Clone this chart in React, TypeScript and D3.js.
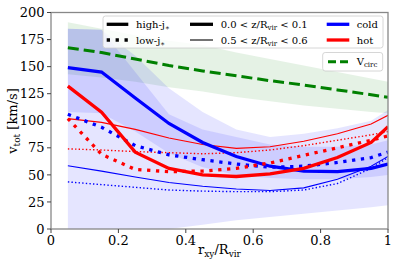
import React from "react";
import * as d3 from "d3";

const xs = [0.05, 0.15, 0.25, 0.35, 0.45, 0.55, 0.65, 0.75, 0.85, 0.95, 1.0];

const coldHighThick = [149, 145, 121, 97.5, 80, 67, 58, 53.5, 53, 56, 60];
const coldLowThick = [106, 94, 77, 68.5, 64, 60, 57, 58, 61.5, 66, 71];
const coldHighThin = [58.5, 53.5, 48, 43, 39.5, 37, 35.5, 38, 46, 58, 67];
const coldLowThin = [43.5, 41, 38.5, 36, 35, 34.5, 34.5, 36, 42, 56, 66];
const hotHighThick = [132, 108, 71, 56, 50, 48.5, 51, 56, 66, 80, 94.5];
const hotLowThick = [102, 69, 55, 53, 53.5, 56, 61, 68, 75, 82, 86];
const hotHighThin = [102, 98.5, 92, 84, 78, 74.5, 76, 81, 88, 97, 105];
const hotLowThin = [74, 73, 71.5, 70.5, 69.5, 70.5, 73, 77, 82, 87, 90];
const vcirc = [167.5, 163, 157, 151, 146, 141.5, 137, 133, 128.5, 124, 121.7];
const vcircHi = [191, 185, 179, 174, 170, 163, 157, 151, 145, 139, 136];
const vcircLo = [143, 140, 136, 131, 127, 122, 118, 114, 111, 108, 107];
const bandAHi = [185, 184, 145, 106, 92, 85, 78, 76, 76, 78, 82];
const bandALo = [108, 107, 90, 70, 57, 50, 47, 46, 46, 48, 50];
const bandBHi = [185, 184, 160, 130, 108, 92, 85, 88, 93, 100, 110];
const bandBLo = [0, 0, 0, 0, 4, 8, 11, 14, 17, 20, 22];

const xTicks = [0, 0.2, 0.4, 0.6, 0.8, 1.0];
const xTickLabels = ["0", "0.2", "0.4", "0.6", "0.8", "1"];
const yTicks = [0, 25, 50, 75, 100, 125, 150, 175, 200];

const FONT = "DejaVu Serif";

export default function App() {
  const x = d3.scaleLinear().domain([0, 1]).range([51, 388]);
  const y = d3.scaleLinear().domain([0, 200]).range([229, 12.5]);

  const line = (vals: number[]) =>
    d3.line<number>().x((_, i) => x(xs[i])).y((d) => y(d))(vals) || "";
  const area = (lo: number[], hi: number[]) =>
    d3
      .area<number>()
      .x((_, i) => x(xs[i]))
      .y0((_, i) => y(lo[i]))
      .y1((d) => y(d))(hi) || "";

  const thickW = 3.3;
  const thinW = 1.1;
  const thickDot = "3.3 5.6";
  const thinDot = "1.4 2.2";

  const series = [
    { v: coldHighThin, c: "#0000ff", w: thinW, d: undefined },
    { v: coldLowThin, c: "#0000ff", w: 1.4, d: thinDot },
    { v: hotHighThin, c: "#ff0000", w: thinW, d: undefined },
    { v: hotLowThin, c: "#ff0000", w: 1.4, d: thinDot },
    { v: coldHighThick, c: "#0000ff", w: thickW, d: undefined },
    { v: coldLowThick, c: "#0000ff", w: thickW, d: thickDot },
    { v: hotHighThick, c: "#ff0000", w: thickW, d: undefined },
    { v: hotLowThick, c: "#ff0000", w: thickW, d: thickDot },
  ];

  const spine = "#888888";

  return (
    <svg
      width={398}
      height={270}
      style={{ position: "absolute", left: 0, top: 0, background: "#fff" }}
      fontFamily={FONT}
    >
      <defs>
        <clipPath id="plotclip">
          <rect x={51} y={12.5} width={337} height={216.5} />
        </clipPath>
      </defs>
      <g clipPath="url(#plotclip)">
        <path d={area(vcircLo, vcircHi)} fill="green" fillOpacity={0.1} />
        <path d={area(bandBLo, bandBHi)} fill="blue" fillOpacity={0.1} />
        <path d={area(bandALo, bandAHi)} fill="blue" fillOpacity={0.1} />
        <path
          d={line(vcirc)}
          fill="none"
          stroke="#008000"
          strokeWidth={3}
          strokeDasharray="11 5"
        />
        {series.map((s, i) => (
          <path
            key={i}
            d={line(s.v)}
            fill="none"
            stroke={s.c}
            strokeWidth={s.w}
            strokeDasharray={s.d}
          />
        ))}
      </g>

      {/* spines */}
      <rect x={51} y={12.5} width={337} height={216.5} fill="none" stroke={spine} strokeWidth={1.3} />

      {/* x ticks */}
      {xTicks.map((t, i) => (
        <g key={"x" + i}>
          <line x1={x(t)} x2={x(t)} y1={229} y2={233} stroke="#444" strokeWidth={1} />
          <text x={x(t)} y={245} textAnchor="middle" fontSize={13} fill="#000">
            {xTickLabels[i]}
          </text>
        </g>
      ))}
      {/* y ticks */}
      {yTicks.map((t, i) => (
        <g key={"y" + i}>
          <line x1={47} x2={51} y1={y(t)} y2={y(t)} stroke="#444" strokeWidth={1} />
          <text x={44.5} y={y(t)} dy="0.36em" textAnchor="end" fontSize={13} fill="#000">
            {t}
          </text>
        </g>
      ))}

      {/* axis labels */}
      <text x={219.5} y={254} textAnchor="middle" fontSize={13} fill="#000">
        r<tspan fontSize={9} dy={3}>xy</tspan>
        <tspan dy={-3}>/R</tspan>
        <tspan fontSize={9} dy={3}>vir</tspan>
      </text>
      <text
        transform="translate(17,121) rotate(-90)"
        textAnchor="middle"
        fontSize={13}
        fill="#000"
      >
        v<tspan fontSize={9} dy={3}>tot</tspan>
        <tspan dy={-3}> [km/s]</tspan>
      </text>

      {/* legend main */}
      <rect x={103} y={16} width={280} height={32} rx={2.5} fill="#fff" fillOpacity={0.8} stroke="#cccccc" strokeWidth={0.8} />
      <line x1={106.7} x2={128.3} y1={24.3} y2={24.3} stroke="#000" strokeWidth={thickW} />
      <line x1={106.7} x2={128.3} y1={40} y2={40} stroke="#000" strokeWidth={thickW} strokeDasharray={thickDot} />
      <text x={136} y={27.8} fontSize={10} fill="#000">
        high-j<tspan fontSize={7} dy={2}>∗</tspan>
      </text>
      <text x={136} y={43.5} fontSize={10} fill="#000">
        low-j<tspan fontSize={7} dy={2}>∗</tspan>
      </text>
      <line x1={190} x2={213} y1={24.3} y2={24.3} stroke="#000" strokeWidth={thickW} />
      <line x1={190} x2={213} y1={40} y2={40} stroke="#000" strokeWidth={thinW} />
      <text x={220.7} y={27.8} fontSize={10} fill="#000">
        0.0 &lt; z/R<tspan fontSize={7} dy={2}>vir</tspan>
        <tspan dy={-2}> &lt; 0.1</tspan>
      </text>
      <text x={220.7} y={43.5} fontSize={10} fill="#000">
        0.5 &lt; z/R<tspan fontSize={7} dy={2}>vir</tspan>
        <tspan dy={-2}> &lt; 0.6</tspan>
      </text>
      <line x1={326.7} x2={349.3} y1={24.3} y2={24.3} stroke="#0000ff" strokeWidth={thickW} />
      <line x1={326.7} x2={349.3} y1={40} y2={40} stroke="#ff0000" strokeWidth={thickW} />
      <text x={356.7} y={27.8} fontSize={10} fill="#000">cold</text>
      <text x={356.7} y={43.5} fontSize={10} fill="#000">hot</text>

      {/* legend vcirc */}
      <rect x={322.7} y={52.5} width={60} height={18.5} rx={2.5} fill="#fff" fillOpacity={0.8} stroke="#cccccc" strokeWidth={0.8} />
      <line x1={328} x2={349} y1={61.7} y2={61.7} stroke="#008000" strokeWidth={3} strokeDasharray="8 4" />
      <text x={356.7} y={65.2} fontSize={10} fill="#000">
        V<tspan fontSize={7} dy={2}>circ</tspan>
      </text>
    </svg>
  );
}
